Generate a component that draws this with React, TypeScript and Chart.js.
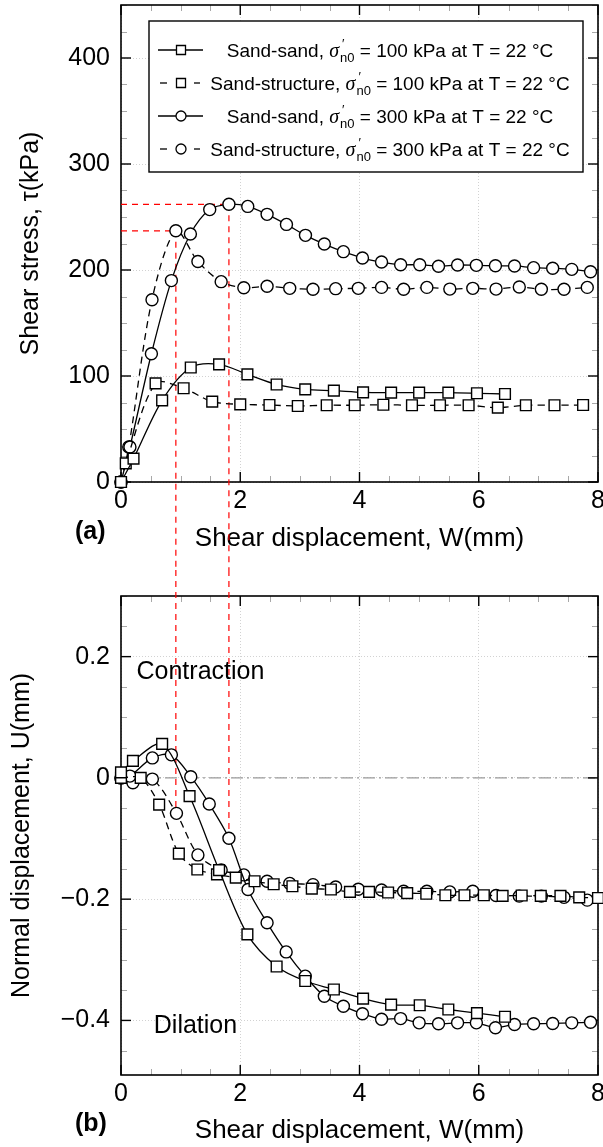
import React, { useEffect, useRef } from 'react';
import { Chart, registerables } from 'chart.js';

Chart.register(...registerables);

// ---------------- data ----------------
const seriesNames = ['Sand-sand', 'Sand-structure', 'Sand-sand', 'Sand-structure'];
const seriesStress = [100, 100, 300, 300];
const temperature = 22;

const xTickValues = [0, 2, 4, 6, 8];
const tauTickValues = [0, 100, 200, 300, 400];
const uTickValues = [-0.4, -0.2, 0, 0.2];

// (a) shear stress vs shear displacement
const tauW_ss100 = [0, 0.21, 0.69, 1.17, 1.645, 2.12, 2.61, 3.09, 3.57, 4.06, 4.53, 5.0, 5.49, 5.97, 6.44];
const tau_ss100 = [0, 22, 77, 108, 111, 101.6, 92, 87.4, 86.2, 84.6, 84.3, 84.3, 84.3, 83.7, 83];

const tauW_sst100 = [0, 0.08, 0.58, 1.05, 1.53, 2.0, 2.49, 2.965, 3.45, 3.92, 4.4, 4.88, 5.35, 5.83, 6.32, 6.79, 7.27, 7.75];
const tau_sst100 = [0, 17.6, 93, 88.4, 75.8, 73.3, 72.6, 71.7, 72.4, 72.4, 72.9, 72.4, 72.4, 72.4, 70.1, 72.4, 72.4, 72.6];

const tauW_ss300 = [0, 0.15, 0.51, 0.845, 1.164, 1.488, 1.81, 2.126, 2.45, 2.775, 3.094, 3.41, 3.73, 4.05, 4.37, 4.69, 5.01, 5.325, 5.645, 5.96, 6.28, 6.6, 6.92, 7.24, 7.56, 7.875];
const tau_ss300 = [0, 33, 121, 190, 234, 257, 262, 260, 252.5, 243, 232.7, 224.5, 217.3, 211.3, 207.5, 205, 205, 203.5, 204.7, 204.4, 204, 203.8, 202.2, 201.6, 200.6, 198.4];

const tauW_sst300 = [0, 0.13, 0.52, 0.92, 1.29, 1.68, 2.06, 2.45, 2.83, 3.22, 3.6, 3.98, 4.37, 4.74, 5.13, 5.515, 5.9, 6.29, 6.68, 7.05, 7.43, 7.82];
const tau_sst300 = [0, 33, 172, 237, 208, 189, 183.3, 184.6, 182.7, 181.8, 182.4, 182.7, 183.6, 181.8, 183.6, 182.0, 182.7, 182.0, 184.0, 181.8, 181.8, 183.6];

// (b) normal displacement vs shear displacement
const uW_ss100 = [0, 0.2, 0.69, 1.15, 1.645, 2.12, 2.61, 3.09, 3.57, 4.06, 4.53, 5.01, 5.49, 5.97, 6.44];
const u_ss100 = [0.009, 0.028, 0.056, -0.03, -0.152, -0.258, -0.311, -0.335, -0.349, -0.364, -0.374, -0.375, -0.382, -0.388, -0.394];

const uW_sst100 = [0, 0.33, 0.64, 0.97, 1.28, 1.61, 1.925, 2.24, 2.56, 2.875, 3.2, 3.52, 3.84, 4.16, 4.48, 4.8, 5.12, 5.44, 5.76, 6.085, 6.4, 6.72, 7.04, 7.37, 7.685, 8.0];
const u_sst100 = [0, 0.0, -0.044, -0.125, -0.151, -0.159, -0.1645, -0.1705, -0.1754, -0.1787, -0.1825, -0.184, -0.188, -0.188, -0.189, -0.19, -0.191, -0.1935, -0.1935, -0.1935, -0.1945, -0.194, -0.1945, -0.1945, -0.197, -0.198];

const uW_ss300 = [0, 0.15, 0.526, 0.845, 1.17, 1.48, 1.81, 2.13, 2.45, 2.77, 3.09, 3.41, 3.73, 4.05, 4.37, 4.69, 5.0, 5.325, 5.645, 5.96, 6.28, 6.6, 6.92, 7.24, 7.56, 7.875];
const u_ss300 = [0, 0.003, 0.033, 0.038, 0.002, -0.043, -0.0995, -0.184, -0.239, -0.287, -0.327, -0.36, -0.3765, -0.389, -0.398, -0.397, -0.404, -0.4055, -0.404, -0.404, -0.412, -0.4066, -0.4055, -0.405, -0.404, -0.403];

const uW_sst300 = [0, 0.2, 0.526, 0.93, 1.29, 1.68, 2.06, 2.45, 2.83, 3.22, 3.6, 3.98, 4.37, 4.74, 5.13, 5.515, 5.9, 6.29, 6.68, 7.05, 7.43, 7.82];
const u_sst300 = [0, -0.008, -0.002, -0.0585, -0.127, -0.152, -0.16, -0.1705, -0.174, -0.176, -0.18, -0.1836, -0.185, -0.187, -0.187, -0.188, -0.187, -0.194, -0.195, -0.195, -0.197, -0.2016];

// peak guide lines (W, tau at peak, U at same W)
const peakW = [0.92, 1.81];
const peakTau = [237, 262];
const peakU = [-0.0585, -0.0995];

// ---------------- styling helpers ----------------
const FONT = "'Liberation Sans', Arial, Helvetica, sans-serif";

function legendLabel(i: number) {
  return `${seriesNames[i]}, \u03C3\u2032n0 = ${seriesStress[i]} kPa at T = ${temperature} \u00B0C`;
}

function makeDataset(i: number, W: number[], V: number[]) {
  const dashed = i % 2 === 1;
  const square = i < 2;
  return {
    label: legendLabel(i),
    data: W.map((x, k) => ({ x, y: V[k] })),
    borderColor: '#000',
    borderWidth: 1.3,
    borderDash: dashed ? [7, 5] : [],
    pointStyle: square ? 'rect' : 'circle',
    pointRadius: square ? 7.6 : 6,
    pointBackgroundColor: '#fff',
    pointBorderColor: '#000',
    pointBorderWidth: 1.4,
    tension: 0.3,
    fill: false,
    clip: false,
  };
}

function line(ctx: CanvasRenderingContext2D, x1: number, y1: number, x2: number, y2: number) {
  ctx.beginPath();
  ctx.moveTo(x1, y1);
  ctx.lineTo(x2, y2);
  ctx.stroke();
}

function drawFrame(chart: any, minorX: number, minorY: number) {
  const { ctx, chartArea: ca, scales } = chart;
  const sx = scales.x;
  const sy = scales.y;
  const xMaj = sx.ticks.map((t: any) => t.value);
  const yMaj = sy.ticks.map((t: any) => t.value);
  const isMajor = (arr: number[], v: number) => arr.some((t) => Math.abs(t - v) < 1e-6);
  ctx.save();
  ctx.setLineDash([]);
  // minor ticks
  ctx.strokeStyle = '#a8a8a8';
  ctx.lineWidth = 1;
  const x0 = Math.ceil(sx.min / minorX - 1e-9);
  const x1 = Math.floor(sx.max / minorX + 1e-9);
  for (let i = x0; i <= x1; i++) {
    const v = i * minorX;
    if (isMajor(xMaj, v)) continue;
    const p = Math.round(sx.getPixelForValue(v)) + 0.5;
    line(ctx, p, ca.bottom, p, ca.bottom - 6);
    line(ctx, p, ca.top, p, ca.top + 6);
  }
  const y0 = Math.ceil(sy.min / minorY - 1e-9);
  const y1 = Math.floor(sy.max / minorY + 1e-9);
  for (let i = y0; i <= y1; i++) {
    const v = i * minorY;
    if (isMajor(yMaj, v)) continue;
    const p = Math.round(sy.getPixelForValue(v)) + 0.5;
    line(ctx, ca.left, p, ca.left + 6, p);
    line(ctx, ca.right, p, ca.right - 6, p);
  }
  // major ticks
  ctx.strokeStyle = '#000';
  ctx.lineWidth = 1.4;
  xMaj.forEach((v: number) => {
    const p = sx.getPixelForValue(v);
    line(ctx, p, ca.bottom, p, ca.bottom - 10);
    line(ctx, p, ca.top, p, ca.top + 10);
  });
  yMaj.forEach((v: number) => {
    const p = sy.getPixelForValue(v);
    line(ctx, ca.left, p, ca.left + 10, p);
    line(ctx, ca.right, p, ca.right - 10, p);
  });
  ctx.lineWidth = 1.6;
  ctx.strokeRect(ca.left, ca.top, ca.right - ca.left, ca.bottom - ca.top);
  ctx.restore();
}

function drawLegend(chart: any) {
  const { ctx, chartArea: ca } = chart;
  const bx = ca.left + 28;
  const by = ca.top + 16;
  const bw = 434;
  const bh = 151;
  ctx.save();
  ctx.setLineDash([]);
  ctx.fillStyle = '#fff';
  ctx.fillRect(bx, by, bw, bh);
  ctx.strokeStyle = '#000';
  ctx.lineWidth = 1.4;
  ctx.strokeRect(bx, by, bw, bh);
  const mainF = `19px ${FONT}`;
  const sigF = `italic 20px 'Liberation Serif', 'DejaVu Serif', serif`;
  const subF = `13px ${FONT}`;
  for (let i = 0; i < 4; i++) {
    const cy = by + 29 + i * 33;
    const dashed = i % 2 === 1;
    const square = i < 2;
    const x0 = bx + 9;
    const x1 = bx + 54;
    const mx = bx + 32;
    ctx.lineWidth = 1.3;
    ctx.strokeStyle = '#000';
    if (dashed) {
      line(ctx, x0 + 2, cy, x0 + 9, cy);
      line(ctx, x1 - 9, cy, x1 - 3, cy);
    } else {
      line(ctx, x0, cy, x1, cy);
    }
    ctx.beginPath();
    if (square) ctx.rect(mx - 4.5, cy - 4.5, 9, 9);
    else ctx.arc(mx, cy, 5, 0, Math.PI * 2);
    ctx.fillStyle = '#fff';
    ctx.fill();
    ctx.stroke();

    const pre = `${seriesNames[i]}, `;
    const post = ` = ${seriesStress[i]} kPa at T = ${temperature} \u00B0C`;
    ctx.font = mainF;
    const wPre = ctx.measureText(pre).width;
    const wPost = ctx.measureText(post).width;
    ctx.font = sigF;
    const wSig = ctx.measureText('\u03C3').width;
    ctx.font = subF;
    const wSub = ctx.measureText('n0').width;
    const total = wPre + wSig + 1 + wSub + wPost;
    let x = bx + 241 - total / 2;
    const base = cy + 7;
    ctx.fillStyle = '#000';
    ctx.textAlign = 'left';
    ctx.textBaseline = 'alphabetic';
    ctx.font = mainF;
    ctx.fillText(pre, x, base);
    x += wPre;
    ctx.font = sigF;
    ctx.fillText('\u03C3', x, base);
    x += wSig + 1;
    ctx.font = subF;
    ctx.fillText('n0', x, base + 5);
    ctx.fillText('\u2032', x + 2, base - 9);
    x += wSub;
    ctx.font = mainF;
    ctx.fillText(post, x, base);
  }
  ctx.restore();
}

function xScale(height: number, titlePad: number) {
  return {
    type: 'linear',
    min: 0,
    max: 8,
    afterBuildTicks: (s: any) => {
      s.ticks = xTickValues.map((v) => ({ value: v }));
    },
    afterFit: (s: any) => {
      s.height = height;
      s.paddingLeft = 0;
      s.paddingRight = 0;
    },
    grid: { color: '#d2d2d2', lineWidth: 1, drawTicks: false },
    border: { display: false, dash: [1, 2] },
    ticks: {
      font: { family: FONT, size: 25 },
      color: '#000',
      padding: 4,
      maxRotation: 0,
      autoSkip: false,
      callback: (v: any) => String(v),
    },
    title: {
      display: true,
      text: 'Shear displacement, W(mm)',
      font: { family: FONT, size: 26 },
      color: '#000',
      padding: { top: 0, bottom: titlePad },
    },
  };
}

function tickMinus(v: number) {
  if (Math.abs(v) < 1e-9) return '0';
  return v < 0 ? '\u2212' + String(Math.abs(v)) : String(v);
}

const configTop: any = {
  type: 'line',
  data: {
    datasets: [
      makeDataset(0, tauW_ss100, tau_ss100),
      makeDataset(1, tauW_sst100, tau_sst100),
      makeDataset(2, tauW_ss300, tau_ss300),
      makeDataset(3, tauW_sst300, tau_sst300),
    ],
  },
  options: {
    responsive: false,
    animation: false,
    devicePixelRatio: 1,
    layout: { padding: { top: 5, right: 5, bottom: 0, left: 0 }, autoPadding: false },
    plugins: { legend: { display: false }, tooltip: { enabled: false } },
    scales: {
      x: xScale(88, 16),
      y: {
        type: 'linear',
        min: 0,
        max: 450,
        afterBuildTicks: (s: any) => {
          s.ticks = tauTickValues.map((v) => ({ value: v }));
        },
        afterFit: (s: any) => {
          s.width = 121;
          s.paddingTop = 0;
          s.paddingBottom = 0;
        },
        grid: { color: '#d2d2d2', lineWidth: 1, drawTicks: false },
        border: { display: false, dash: [1, 2] },
        ticks: {
          font: { family: FONT, size: 25 },
          color: '#000',
          padding: 11,
          autoSkip: false,
          callback: (v: any) => String(v),
        },
        title: {
          display: true,
          text: 'Shear stress, \u03C4(kPa)',
          font: { family: FONT, size: 25 },
          color: '#000',
          padding: { top: 16, bottom: 0 },
        },
      },
    },
  },
  plugins: [
    {
      id: 'frameTop',
      beforeDatasetsDraw(chart: any) {
        drawFrame(chart, 0.5, 25);
        const { ctx, scales } = chart;
        ctx.save();
        ctx.strokeStyle = '#ff0000';
        ctx.lineWidth = 1.2;
        ctx.setLineDash([6, 5]);
        for (let i = 0; i < peakW.length; i++) {
          const px = scales.x.getPixelForValue(peakW[i]);
          const py = scales.y.getPixelForValue(peakTau[i]);
          line(ctx, scales.x.getPixelForValue(0), py, px, py);
          line(ctx, px, py, px, chart.height);
        }
        ctx.restore();
      },
      afterDraw(chart: any) {
        drawLegend(chart);
        const ctx = chart.ctx;
        ctx.save();
        ctx.font = `bold 25px ${FONT}`;
        ctx.fillStyle = '#000';
        ctx.textAlign = 'left';
        ctx.textBaseline = 'middle';
        ctx.fillText('(a)', 75, 532);
        ctx.restore();
      },
    },
  ],
};

const configBottom: any = {
  type: 'line',
  data: {
    datasets: [
      makeDataset(0, uW_ss100, u_ss100),
      makeDataset(1, uW_sst100, u_sst100),
      makeDataset(2, uW_ss300, u_ss300),
      makeDataset(3, uW_sst300, u_sst300),
    ],
  },
  options: {
    responsive: false,
    animation: false,
    devicePixelRatio: 1,
    layout: { padding: { top: 26, right: 5, bottom: 0, left: 0 }, autoPadding: false },
    plugins: { legend: { display: false }, tooltip: { enabled: false } },
    scales: {
      x: xScale(95, 24),
      y: {
        type: 'linear',
        min: -0.49,
        max: 0.3,
        afterBuildTicks: (s: any) => {
          s.ticks = uTickValues.map((v) => ({ value: v }));
        },
        afterFit: (s: any) => {
          s.width = 121;
          s.paddingTop = 0;
          s.paddingBottom = 0;
        },
        grid: { color: '#d2d2d2', lineWidth: 1, drawTicks: false },
        border: { display: false, dash: [1, 2] },
        ticks: {
          font: { family: FONT, size: 25 },
          color: '#000',
          padding: 11,
          autoSkip: false,
          callback: (v: any) => tickMinus(Number(v)),
        },
        title: {
          display: true,
          text: 'Normal displacement, U(mm)',
          font: { family: FONT, size: 25 },
          color: '#000',
          padding: { top: 7, bottom: 0 },
        },
      },
    },
  },
  plugins: [
    {
      id: 'frameBottom',
      beforeDatasetsDraw(chart: any) {
        const { ctx, scales, chartArea: ca } = chart;
        // zero reference line
        ctx.save();
        ctx.strokeStyle = '#9a9a9a';
        ctx.lineWidth = 1.3;
        ctx.setLineDash([12, 4, 2, 4]);
        const y0 = scales.y.getPixelForValue(0);
        line(ctx, ca.left, y0, ca.right, y0);
        ctx.restore();
        drawFrame(chart, 0.5, 0.05);
        ctx.save();
        ctx.strokeStyle = '#ff0000';
        ctx.lineWidth = 1.2;
        ctx.setLineDash([6, 5]);
        for (let i = 0; i < peakW.length; i++) {
          const px = scales.x.getPixelForValue(peakW[i]);
          const py = scales.y.getPixelForValue(peakU[i]);
          line(ctx, px, 0, px, py);
        }
        ctx.restore();
        // annotations
        ctx.save();
        ctx.font = `25px ${FONT}`;
        ctx.fillStyle = '#000';
        ctx.textAlign = 'left';
        ctx.textBaseline = 'middle';
        ctx.fillText('Contraction', scales.x.getPixelForValue(0.26), scales.y.getPixelForValue(0.175));
        ctx.fillText('Dilation', scales.x.getPixelForValue(0.55), scales.y.getPixelForValue(-0.41));
        ctx.restore();
      },
      afterDraw(chart: any) {
        const ctx = chart.ctx;
        ctx.save();
        ctx.font = `bold 25px ${FONT}`;
        ctx.fillStyle = '#000';
        ctx.textAlign = 'left';
        ctx.textBaseline = 'middle';
        ctx.fillText('(b)', 75, 554);
        ctx.restore();
      },
    },
  ],
};

export default function App() {
  const topRef = useRef<HTMLCanvasElement>(null);
  const botRef = useRef<HTMLCanvasElement>(null);
  useEffect(() => {
    const a = new Chart(topRef.current as HTMLCanvasElement, configTop);
    const b = new Chart(botRef.current as HTMLCanvasElement, configBottom);
    return () => {
      a.destroy();
      b.destroy();
    };
  }, []);
  return (
    <div
      style={{
        position: 'absolute',
        left: 0,
        top: 0,
        width: 603,
        height: 1147,
        overflow: 'hidden',
        background: '#fff',
      }}
    >
      <canvas
        ref={topRef}
        width={603}
        height={570}
        style={{ position: 'absolute', left: 0, top: 0, width: 603, height: 570 }}
      />
      <canvas
        ref={botRef}
        width={603}
        height={600}
        style={{ position: 'absolute', left: 0, top: 570, width: 603, height: 600 }}
      />
    </div>
  );
}
